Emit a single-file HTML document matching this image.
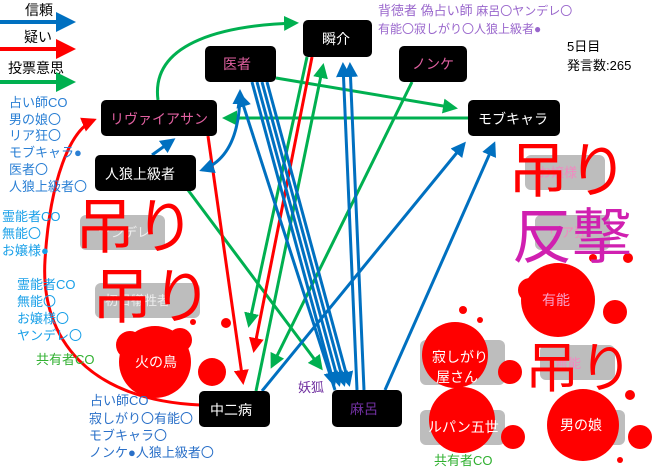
<!DOCTYPE html>
<html><head><meta charset="utf-8"><style>
html,body{margin:0;padding:0;background:#fff;}
svg{display:block;}
text{font-family:"Liberation Sans","Noto Sans CJK JP",sans-serif;}
</style></head><body>
<svg width="660" height="473" viewBox="0 0 660 473" xmlns="http://www.w3.org/2000/svg">
<defs>
<marker id="ab" markerWidth="5" markerHeight="5" refX="4" refY="2.5" orient="auto" markerUnits="strokeWidth"><path d="M0,0 L5,2.5 L0,5z" fill="#0070c0"/></marker>
<marker id="ar" markerWidth="5" markerHeight="5" refX="4" refY="2.5" orient="auto" markerUnits="strokeWidth"><path d="M0,0 L5,2.5 L0,5z" fill="#ff0000"/></marker>
<marker id="ag" markerWidth="5" markerHeight="5" refX="4" refY="2.5" orient="auto" markerUnits="strokeWidth"><path d="M0,0 L5,2.5 L0,5z" fill="#00b050"/></marker>
<marker id="abs" markerWidth="5" markerHeight="5" refX="1" refY="2.5" orient="auto" markerUnits="strokeWidth"><path d="M5,0 L0,2.5 L5,5z" fill="#0070c0"/></marker>
</defs>

<!-- gray boxes -->
<g fill="#bdbdbd">
<rect x="80" y="215" width="85" height="35" rx="6"/>
<rect x="95" y="283" width="105" height="35" rx="6"/>
<rect x="525" y="155" width="80" height="35" rx="6"/>
<rect x="535" y="215" width="75" height="35" rx="6"/>
<rect x="540" y="345" width="75" height="35" rx="6"/>
<rect x="420" y="340" width="85" height="45" rx="6"/>
<rect x="420" y="410" width="85" height="35" rx="6"/>
<rect x="555" y="410" width="70" height="35" rx="6"/>
</g>
<g font-size="13" fill="#f08ac0">
<text x="98" y="237" fill="#eee">ヤンデレ</text>
<text x="105" y="305" fill="#eee">初日犠牲者</text>
<text x="538" y="177">お嬢様</text>
<text x="548" y="237">リア狂</text>
<text x="555" y="368">無能</text>
</g>

<!-- blood -->
<g fill="#ff0000">
<circle cx="155" cy="362" r="36"/><circle cx="130" cy="345" r="14"/><circle cx="180" cy="340" r="12"/>
<circle cx="212" cy="372" r="14"/><circle cx="226" cy="323" r="5"/><circle cx="193" cy="322" r="3"/>
<circle cx="558" cy="300" r="37"/><circle cx="530" cy="290" r="12"/><circle cx="615" cy="312" r="12"/>
<circle cx="455" cy="355" r="33"/><circle cx="462" cy="420" r="33"/><circle cx="510" cy="372" r="12"/>
<circle cx="583" cy="425" r="36"/><circle cx="640" cy="437" r="12"/><circle cx="513" cy="437" r="12"/>
<circle cx="463" cy="310" r="4"/><circle cx="630" cy="395" r="5"/><circle cx="628" cy="258" r="5"/>
<circle cx="593" cy="258" r="4"/><circle cx="480" cy="320" r="3"/><circle cx="620" cy="460" r="3"/>
</g>
<g font-size="14" fill="#fff">
<text x="135" y="367">火の鳥</text>
<text x="542" y="305" fill="#f8a0c8">有能</text>
<text x="432" y="362">寂しがり</text>
<text x="436" y="382">屋さん</text>
<text x="428" y="432">ルパン五世</text>
<text x="560" y="430">男の娘</text>
</g>

<!-- big text -->
<g font-size="60" fill="#ff0000">
<text x="75" y="248">吊り</text>
<text x="92" y="318">吊り</text>
<text x="508" y="192">吊り</text>
<text x="525" y="387" font-size="54">吊り</text>
</g>
<text x="512" y="258" font-size="60" fill="#d020b0">反撃</text>

<!-- legend -->
<g font-size="14" fill="#000">
<text x="25" y="15">信頼</text><text x="24" y="42">疑い</text><text x="8" y="73">投票意思</text>
</g>
<line x1="0" y1="22" x2="72" y2="22" stroke="#0070c0" stroke-width="4" marker-end="url(#ab)"/>
<line x1="0" y1="49" x2="72" y2="49" stroke="#ff0000" stroke-width="4" marker-end="url(#ar)"/>
<line x1="0" y1="82" x2="72" y2="82" stroke="#00b050" stroke-width="4" marker-end="url(#ag)"/>

<!-- edges -->
<g fill="none" stroke-width="3">
<path d="M158,100 C150,40 230,25 296,23" stroke="#00b050" marker-end="url(#ag)"/>
<line x1="276" y1="78" x2="455" y2="108" stroke="#00b050" marker-end="url(#ag)"/>
<line x1="468" y1="118" x2="225" y2="118" stroke="#00b050" marker-end="url(#ag)"/>
<line x1="188" y1="190" x2="321" y2="368" stroke="#00b050" marker-end="url(#ag)"/>
<line x1="412" y1="82" x2="272" y2="366" stroke="#00b050" marker-end="url(#ag)"/>
<line x1="256" y1="391" x2="323" y2="66" stroke="#00b050" marker-end="url(#ag)"/>
<line x1="307" y1="57" x2="249" y2="325" stroke="#00b050" marker-end="url(#ag)"/>
<line x1="312" y1="57" x2="254" y2="350" stroke="#ff0000" marker-end="url(#ar)"/>
<line x1="208" y1="136" x2="243" y2="382" stroke="#ff0000" marker-end="url(#ar)"/>
<path d="M200,405 C90,400 40,340 45,260 C50,180 70,130 94,120" stroke="#ff0000" marker-end="url(#ar)"/>
<path d="M240,92 C240,130 230,160 202,170" stroke="#0070c0" marker-start="url(#abs)" marker-end="url(#ab)"/>
<line x1="152" y1="155" x2="173" y2="140" stroke="#0070c0" marker-end="url(#ab)"/>
<line x1="335" y1="390" x2="240" y2="95" stroke="#0070c0" marker-end="url(#ab)"/>
<line x1="252" y1="82" x2="334" y2="384" stroke="#0070c0" marker-end="url(#ab)"/>
<line x1="257" y1="82" x2="339" y2="384" stroke="#0070c0" marker-end="url(#ab)"/>
<line x1="262" y1="82" x2="344" y2="384" stroke="#0070c0" marker-end="url(#ab)"/>
<line x1="267" y1="82" x2="349" y2="384" stroke="#0070c0" marker-end="url(#ab)"/>
<line x1="357" y1="390" x2="343" y2="65" stroke="#0070c0" marker-end="url(#ab)"/>
<line x1="364" y1="390" x2="350" y2="65" stroke="#0070c0" marker-end="url(#ab)"/>
<line x1="262" y1="391" x2="464" y2="144" stroke="#0070c0" marker-end="url(#ab)"/>
<line x1="385" y1="390" x2="494" y2="144" stroke="#0070c0" marker-end="url(#ab)"/>
</g>

<!-- nodes -->
<g fill="#000">
<rect x="205" y="46" width="71" height="36" rx="5"/>
<rect x="303" y="20" width="69" height="37" rx="5"/>
<rect x="399" y="46" width="68" height="36" rx="5"/>
<rect x="101" y="100" width="116" height="36" rx="5"/>
<rect x="95" y="155" width="101" height="36" rx="5"/>
<rect x="468" y="100" width="92" height="36" rx="5"/>
<rect x="199" y="391" width="71" height="36" rx="5"/>
<rect x="332" y="390" width="70" height="37" rx="5"/>
</g>
<g font-size="14">
<text x="223" y="69" fill="#e060a0">医者</text>
<text x="322" y="44" fill="#fff">瞬介</text>
<text x="412" y="69" fill="#e060a0">ノンケ</text>
<text x="110" y="124" fill="#e060a0">リヴァイアサン</text>
<text x="105" y="179" fill="#fff">人狼上級者</text>
<text x="478" y="124" fill="#fff">モブキャラ</text>
<text x="210" y="415" fill="#fff">中二病</text>
<text x="350" y="414" fill="#7030a0">麻呂</text>
</g>

<!-- annotations -->
<g font-size="13" fill="#2a7fd4">
<text x="9" y="107">占い師CO</text><text x="9" y="124">男の娘〇</text><text x="9" y="140">リア狂〇</text>
<text x="9" y="157">モブキャラ●</text><text x="9" y="174">医者〇</text><text x="9" y="191">人狼上級者〇</text>
</g>
<g font-size="13" fill="#1aa0e8">
<text x="2" y="221">霊能者CO</text><text x="2" y="238">無能〇</text><text x="2" y="255">お嬢様●</text>
<text x="17" y="289">霊能者CO</text><text x="17" y="306">無能〇</text><text x="17" y="323">お嬢様〇</text><text x="17" y="340">ヤンデレ〇</text>
</g>
<text x="36" y="364" font-size="13" fill="#30b030">共有者CO</text>
<g font-size="13" fill="#2a70c8">
<text x="90" y="405">占い師CO</text><text x="89" y="423">寂しがり〇有能〇</text>
<text x="89" y="440">モブキャラ〇</text><text x="89" y="457">ノンケ●人狼上級者〇</text>
</g>
<text x="298" y="392" font-size="13" fill="#7030a0">妖狐</text>
<text x="434" y="465" font-size="13" fill="#30b030">共有者CO</text>
<g fill="#9966cc">
<text x="378" y="15" font-size="13">背徳者 偽占い師 <tspan font-size="12">麻呂〇ヤンデレ〇</tspan></text>
<text x="378" y="33" font-size="12">有能〇寂しがり〇人狼上級者●</text>
</g>
<g font-size="13" fill="#000">
<text x="567" y="51">5日目</text><text x="567" y="70">発言数:265</text>
</g>
</svg>
</body></html>
